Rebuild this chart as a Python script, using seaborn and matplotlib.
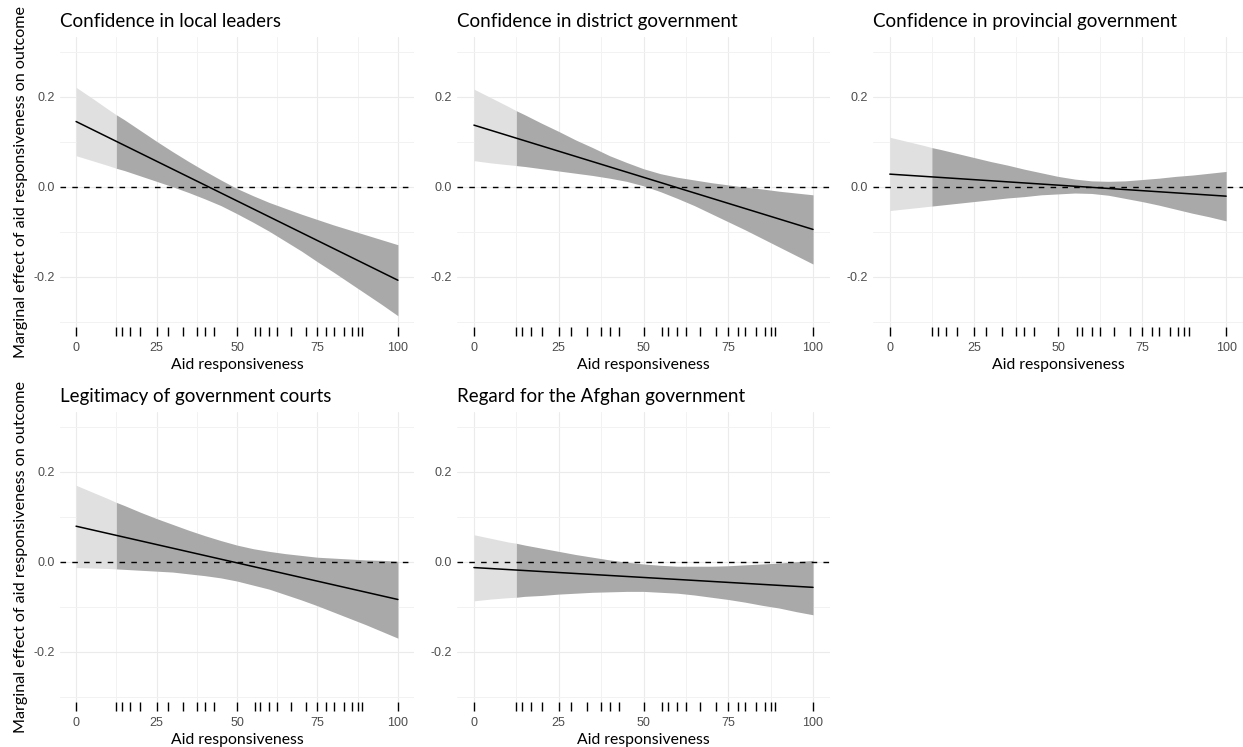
import matplotlib
matplotlib.use("Agg")
import matplotlib.pyplot as plt
from matplotlib.ticker import MultipleLocator
import numpy as np
import seaborn as sns

grid_x = [0, 5, 10, 12.5, 15, 20, 25, 30, 35, 40, 45, 50, 55, 60, 65, 70, 75, 80, 85, 90, 95, 100]
line_x = [0, 100]

# observed aid responsiveness values (rug)
rug_x = [0, 12.5, 14.3, 16.7, 20, 25, 28.6, 33.3, 37.5, 40, 42.9, 50, 55.6, 57.1,
         60, 62.5, 66.7, 71.4, 75, 77.8, 80, 83.3, 85.7, 87.5, 88.9, 100]

titles = [
    "Confidence in local leaders",
    "Confidence in district government",
    "Confidence in provincial government",
    "Legitimacy of government courts",
    "Regard for the Afghan government",
]

est_local = [0.145, -0.208]
hi_local = [0.221, 0.197, 0.172, 0.160, 0.149, 0.125, 0.101, 0.078, 0.056, 0.035, 0.015,
            -0.004, -0.020, -0.035, -0.048, -0.061, -0.073, -0.085, -0.096, -0.107, -0.118, -0.129]
lo_local = [0.069, 0.058, 0.047, 0.041, 0.036, 0.024, 0.012, 0.000, -0.013, -0.027, -0.042,
            -0.060, -0.079, -0.099, -0.121, -0.143, -0.167, -0.190, -0.214, -0.238, -0.262, -0.287]

est_district = [0.137, -0.095]
hi_district = [0.217, 0.198, 0.179, 0.169, 0.160, 0.141, 0.123, 0.104, 0.087, 0.069, 0.054,
               0.040, 0.029, 0.021, 0.015, 0.009, 0.004, -0.001, -0.005, -0.010, -0.014, -0.018]
lo_district = [0.058, 0.053, 0.049, 0.047, 0.045, 0.040, 0.035, 0.030, 0.025, 0.019, 0.012,
               0.002, -0.011, -0.026, -0.042, -0.060, -0.078, -0.096, -0.115, -0.134, -0.153, -0.172]

est_province = [0.028, -0.021]
hi_province = [0.110, 0.101, 0.092, 0.087, 0.083, 0.074, 0.065, 0.056, 0.048, 0.039, 0.031,
               0.023, 0.017, 0.013, 0.012, 0.013, 0.016, 0.019, 0.023, 0.026, 0.030, 0.034]
lo_province = [-0.053, -0.049, -0.045, -0.043, -0.041, -0.037, -0.033, -0.029, -0.025, -0.022, -0.018,
               -0.016, -0.014, -0.015, -0.019, -0.026, -0.033, -0.041, -0.050, -0.059, -0.067, -0.076]

est_courts = [0.079, -0.084]
hi_courts = [0.170, 0.155, 0.140, 0.132, 0.125, 0.110, 0.096, 0.083, 0.070, 0.058, 0.047,
             0.037, 0.029, 0.023, 0.018, 0.014, 0.010, 0.008, 0.006, 0.004, 0.003, 0.001]
lo_courts = [-0.013, -0.014, -0.015, -0.016, -0.017, -0.019, -0.021, -0.023, -0.027, -0.031, -0.036,
             -0.043, -0.052, -0.061, -0.073, -0.085, -0.098, -0.112, -0.126, -0.140, -0.155, -0.170]

est_afghan = [-0.013, -0.057]
hi_afghan = [0.060, 0.052, 0.044, 0.041, 0.037, 0.030, 0.023, 0.016, 0.010, 0.004, -0.001,
             -0.005, -0.008, -0.010, -0.010, -0.010, -0.009, -0.007, -0.005, -0.003, 0.000, 0.003]
lo_afghan = [-0.087, -0.083, -0.080, -0.079, -0.077, -0.075, -0.072, -0.070, -0.068, -0.067, -0.066,
             -0.066, -0.068, -0.070, -0.074, -0.079, -0.084, -0.090, -0.097, -0.103, -0.111, -0.118]

estimates = [est_local, est_district, est_province, est_courts, est_afghan]
uppers = [hi_local, hi_district, hi_province, hi_courts, hi_afghan]
lowers = [lo_local, lo_district, lo_province, lo_courts, lo_afghan]

support_start = 12.5

sns.set_theme(style="white")
plt.rcParams["font.family"] = ["Lato", "DejaVu Sans"]

W, H = 1243, 747
fig = plt.figure(figsize=(W / 100, H / 100), dpi=100)

col_left = [60, 457, 873]
col_width = [354, 373, 370]
row_top = [37, 412]
panel_h = 290

gx = np.array(grid_x)
for i, title in enumerate(titles):
    r, c = divmod(i, 3)
    ax = fig.add_axes([col_left[c] / W, 1 - (row_top[r] + panel_h) / H,
                       col_width[c] / W, panel_h / H])
    up = np.array(uppers[i])
    lo = np.array(lowers[i])
    light = gx <= support_start
    dark = gx >= support_start
    ax.fill_between(gx[light], lo[light], up[light], color="#E0E0E0", lw=0, zorder=1)
    ax.fill_between(gx[dark], lo[dark], up[dark], color="#A9A9A9", lw=0, zorder=1)
    sns.lineplot(x=line_x, y=estimates[i], color="black", lw=1.1, ax=ax, zorder=3)
    ax.axhline(0, color="black", lw=1.0, ls=(0, (4, 4.5)), zorder=4)
    sns.rugplot(x=rug_x, height=-0.03, clip_on=False, color="black", lw=1.7, ax=ax)

    ax.set_xlim(-5, 105)
    ax.set_ylim(-0.312, 0.333)
    ax.set_xticks([0, 25, 50, 75, 100])
    ax.set_xticklabels(["0", "25", "50", "75", "100"])
    ax.set_yticks([-0.2, 0.0, 0.2])
    ax.set_yticklabels(["-0.2", "0.0", "0.2"])
    ax.xaxis.set_minor_locator(MultipleLocator(12.5))
    ax.yaxis.set_minor_locator(MultipleLocator(0.1))
    ax.grid(which="major", color="#EBEBEB", lw=0.8, zorder=0)
    ax.grid(which="minor", color="#F2F2F2", lw=0.7, zorder=0)
    ax.set_axisbelow(True)
    for s in ax.spines.values():
        s.set_visible(False)
    ax.tick_params(axis="both", which="both", length=0)
    ax.tick_params(axis="x", pad=11)
    ax.tick_params(axis="y", pad=4)
    for lab in ax.get_xticklabels() + ax.get_yticklabels():
        lab.set_family(["Liberation Sans", "DejaVu Sans"])
        lab.set_fontsize(9)
        lab.set_color("#4D4D4D")

    ax.set_title(title, loc="left", fontsize=13.5, pad=7.5, color="black")
    ax.set_xlabel("Aid responsiveness", fontsize=11.3, labelpad=2.5, color="black")
    if c == 0:
        ax.set_ylabel("Marginal effect of aid responsiveness on outcome",
                      fontsize=11.6, labelpad=3.5, color="black")
    else:
        ax.set_ylabel("")

fig.savefig("out.png", dpi=100)
plt.close(fig)
